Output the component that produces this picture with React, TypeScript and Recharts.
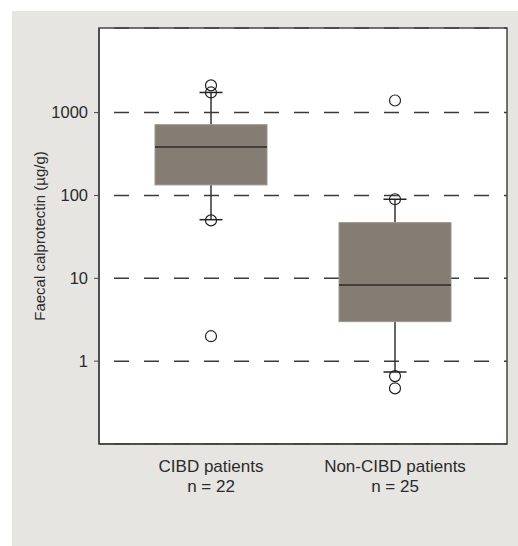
import {
  Bar,
  CartesianGrid,
  ComposedChart,
  ReferenceArea,
  Scatter,
  XAxis,
  YAxis
} from "recharts";

const categories = ["CIBD patients", "Non-CIBD patients"];
const counts = [22, 25];
const whiskerLow = [51, 0.74];
const q1 = [134, 3.0];
const median = [385, 8.3];
const q3 = [715, 47];
const whiskerHigh = [1750, 90];
const outliers = [
  [2130, 1750, 50, 2.0],
  [1400, 90, 0.66, 0.47]
];
const yTicks = [1, 10, 100, 1000];
const yDomain = [0.1, 10500];

const boxData = categories.map((name, i) => ({
  name,
  n: counts[i],
  range: [whiskerLow[i], whiskerHigh[i]],
  lo: whiskerLow[i],
  q1: q1[i],
  med: median[i],
  q3: q3[i],
  hi: whiskerHigh[i]
}));

const outlierData = categories.flatMap((name, i) =>
  outliers[i].map((value) => ({ name, value }))
);

const ink = "#2b2b2b";
const font = "'Liberation Sans', Arial, sans-serif";

// draws whiskers + box + median from the [low, high] range bar
function BoxShape(props: any) {
  const { x, y, width, height, payload } = props;
  if (payload == null) return null;
  const top = Math.min(y, y + height);
  const bottom = Math.max(y, y + height);
  const lg = Math.log10;
  const yOf = (v: number) =>
    top + ((bottom - top) * (lg(payload.hi) - lg(v))) / (lg(payload.hi) - lg(payload.lo));
  const cx = x + width / 2;
  const capW = 23;
  const yq1 = yOf(payload.q1);
  const yq3 = yOf(payload.q3);
  const ym = yOf(payload.med);
  return (
    <g>
      <line x1={cx} x2={cx} y1={top} y2={yq3} stroke="#333" strokeWidth={1.5} />
      <line x1={cx} x2={cx} y1={yq1} y2={bottom} stroke="#333" strokeWidth={1.5} />
      <line x1={cx - capW / 2} x2={cx + capW / 2} y1={top} y2={top} stroke="#222" strokeWidth={1.5} />
      <line x1={cx - capW / 2} x2={cx + capW / 2} y1={bottom} y2={bottom} stroke="#222" strokeWidth={1.5} />
      <rect x={x} y={yq3} width={width} height={yq1 - yq3} fill="#857d74" stroke="#9a9792" strokeWidth={1} />
      <line x1={x} x2={x + width} y1={ym} y2={ym} stroke="#2e2a27" strokeWidth={1.5} />
    </g>
  );
}

function Outlier(props: any) {
  const { cx, cy } = props;
  return <circle cx={cx} cy={cy} r={5.5} fill="none" stroke="#222" strokeWidth={1.2} />;
}

function CategoryTick(props: any) {
  const { x, y, payload } = props;
  const idx = categories.indexOf(payload.value);
  return (
    <text x={x} y={y} textAnchor="middle" fill={ink} fontSize={17} fontFamily={font}>
      <tspan x={x} dy={28}>{payload.value}</tspan>
      <tspan x={x} dy={20}>{`n = ${counts[idx]}`}</tspan>
    </text>
  );
}

export default function App() {
  return (
    <div
      style={{
        position: "absolute",
        left: 12,
        top: 11,
        width: 506,
        height: 535,
        background: "#e6e5e1"
      }}
    >
      <ComposedChart
        width={506}
        height={535}
        data={boxData}
        margin={{ top: 17, right: 11, bottom: 42, left: 0 }}
        style={{ fontFamily: font }}
      >
        <CartesianGrid
          fill="#ffffff"
          vertical={false}
          stroke="#3a3a3a"
          strokeWidth={1.5}
          strokeDasharray="0 15 15 0"
        />
        <XAxis
          dataKey="name"
          type="category"
          allowDuplicatedCategory={false}
          padding={{ left: 20, right: 20 }}
          height={60}
          tickLine={false}
          tickSize={0}
          tickMargin={0}
          axisLine={{ stroke: "#444", strokeWidth: 1.5 }}
          tick={<CategoryTick />}
        />
        <XAxis xAxisId="frame" type="number" domain={[0, 1]} hide />
        <YAxis
          scale="log"
          domain={yDomain}
          allowDataOverflow
          ticks={yTicks}
          width={87}
          tickSize={5}
          tickMargin={6}
          tickLine={{ stroke: "#444" }}
          axisLine={{ stroke: "#444", strokeWidth: 1.5 }}
          tick={{ fill: ink, fontSize: 16.5, fontFamily: font }}
          label={{
            value: "Faecal calprotectin (µg/g)",
            angle: -90,
            position: "insideLeft",
            offset: 28,
            fill: ink,
            fontSize: 15,
            fontFamily: font,
            style: { textAnchor: "middle" }
          }}
        />
        <ReferenceArea
          xAxisId="frame"
          x1={0}
          x2={1}
          y1={yDomain[0]}
          y2={yDomain[1]}
          fill="none"
          stroke="#444"
          strokeWidth={1.5}
          ifOverflow="visible"
        />
        <Bar
          dataKey="range"
          barSize={112}
          shape={<BoxShape />}
          isAnimationActive={false}
        />
        <Scatter
          data={outlierData}
          dataKey="value"
          shape={<Outlier />}
          isAnimationActive={false}
        />
      </ComposedChart>
    </div>
  );
}
